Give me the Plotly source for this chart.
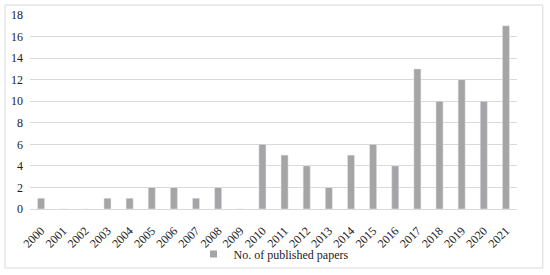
import plotly.graph_objects as go

years = [str(y) for y in range(2000, 2022)]
papers = [1, 0, 0, 1, 1, 2, 2, 1, 2, 0, 6, 5, 4, 2, 5, 6, 4, 13, 10, 12, 10, 17]
y_ticks = [0, 2, 4, 6, 8, 10, 12, 14, 16, 18]
series_name = "No. of published papers"

font = "Liberation Serif"
bar_color = "#a5a5a5"

fig = go.Figure()
fig.add_trace(go.Bar(
    x=years,
    y=papers,
    name=series_name,
    marker_color=bar_color,
    showlegend=False,
))
# small square legend marker, like the original
fig.add_trace(go.Scatter(
    x=[None], y=[None],
    mode="markers",
    name=series_name,
    marker=dict(symbol="square", size=7, color=bar_color),
))

fig.update_layout(
    width=550,
    height=275,
    margin=dict(l=30, r=33, t=15, b=66, autoexpand=False),
    plot_bgcolor="white",
    paper_bgcolor="white",
    bargap=0.68,
    font=dict(family=font, size=12, color="#222"),
    xaxis=dict(
        type="category",
        tickangle=-45,
        showgrid=False,
        showline=True,
        linecolor="#d9d9d9",
        ticks="outside",
        ticklen=9,
        tickcolor="rgba(0,0,0,0)",
        automargin=False,
        tickfont=dict(size=12, color="#222"),
    ),
    yaxis=dict(
        range=[0, 18],
        tickvals=y_ticks,
        showgrid=True,
        gridcolor="#d9d9d9",
        zeroline=False,
        ticks="",
        ticklabelstandoff=6,
        automargin=False,
        tickfont=dict(size=12, color="#222"),
    ),
    legend=dict(
        orientation="h",
        x=0.5,
        xanchor="center",
        y=-0.232,
        yanchor="middle",
        bgcolor="rgba(0,0,0,0)",
        font=dict(size=12, color="#222"),
        itemwidth=30,
    ),
    shapes=[dict(
        type="rect", xref="paper", yref="paper",
        x0=-0.0513, x1=1.053, y0=-0.304, y1=1.0515,
        line=dict(color="#d9d9d9", width=1),
    )],
)

# drop the page's default body margin so the figure sits at the window's corner
fig.write_html("out.html", config={"displayModeBar": False},
               post_script="document.body.style.margin='0';")
